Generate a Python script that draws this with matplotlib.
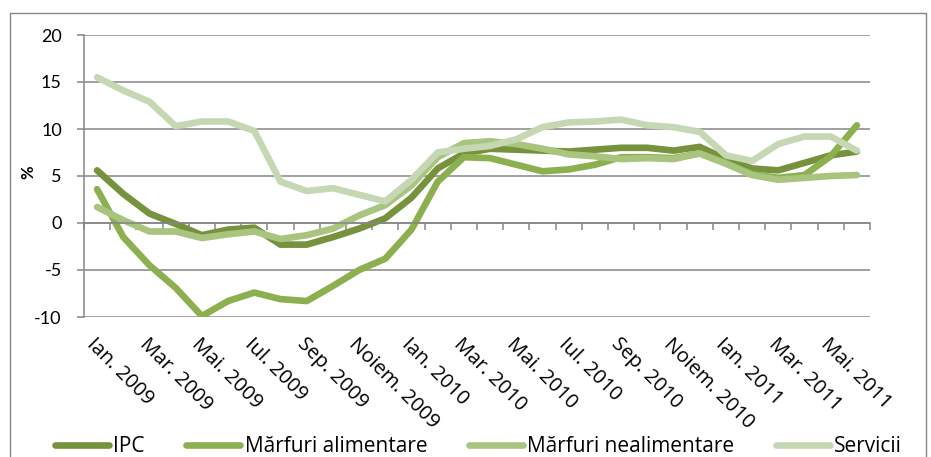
"""Romania inflation components, Jan 2009 - Jun 2011 (annual % change)."""

import matplotlib
matplotlib.use("Agg")
import matplotlib.pyplot as plt
from matplotlib.patches import Rectangle
import numpy as np

plt.rcParams["font.family"] = ["Lato", "DejaVu Sans"]
plt.rcParams["axes.unicode_minus"] = False

GRID = "#868686"
COLORS = ["#76923C", "#8CB04F", "#A8C47E", "#C6D8B3"]

months = [
    "Ian. 2009", "Feb. 2009", "Mar. 2009", "Apr. 2009", "Mai. 2009", "Iun. 2009",
    "Iul. 2009", "Aug. 2009", "Sep. 2009", "Oct. 2009", "Noiem. 2009", "Dec. 2009",
    "Ian. 2010", "Feb. 2010", "Mar. 2010", "Apr. 2010", "Mai. 2010", "Iun. 2010",
    "Iul. 2010", "Aug. 2010", "Sep. 2010", "Oct. 2010", "Noiem. 2010", "Dec. 2010",
    "Ian. 2011", "Feb. 2011", "Mar. 2011", "Apr. 2011", "Mai. 2011", "Iun. 2011",
]

ipc = [5.6, 3.1, 1.0, -0.1, -1.3, -0.7, -0.5, -2.3, -2.3, -1.5,
       -0.6, 0.5, 2.7, 5.8, 7.4, 7.9, 7.8, 7.7, 7.6, 7.8,
       8.0, 8.0, 7.7, 8.1, 6.8, 5.8, 5.6, 6.4, 7.2, 7.6]
alimentare = [3.6, -1.5, -4.5, -6.9, -9.9, -8.3, -7.4, -8.1, -8.3, -6.7,
              -5.0, -3.8, -0.7, 4.4, 7.0, 6.9, 6.2, 5.5, 5.7, 6.2,
              7.0, 7.0, 6.9, 7.4, 6.4, 5.2, 4.8, 5.1, 7.1, 10.4]
nealimentare = [1.7, 0.3, -0.9, -0.9, -1.6, -1.2, -0.9, -1.7, -1.3, -0.6,
                0.8, 1.9, 4.0, 7.0, 8.5, 8.7, 8.4, 7.9, 7.3, 7.1,
                6.8, 6.9, 6.8, 7.4, 6.3, 5.1, 4.6, 4.8, 5.0, 5.1]
servicii = [15.5, 14.1, 12.9, 10.3, 10.8, 10.8, 9.8, 4.4, 3.4, 3.7,
            3.0, 2.3, 4.6, 7.5, 7.9, 8.2, 8.9, 10.2, 10.7, 10.8,
            11.0, 10.4, 10.2, 9.7, 7.2, 6.6, 8.4, 9.2, 9.2, 7.7]

series = {
    "IPC": ipc,
    "Mărfuri alimentare": alimentare,
    "Mărfuri nealimentare": nealimentare,
    "Servicii": servicii,
}
yticks = [-10, -5, 0, 5, 10, 15, 20]

fig = plt.figure(figsize=(9.31, 4.57), dpi=100)
ax = fig.add_axes([84 / 931, 1 - 317 / 457, 786 / 931, 282 / 457])

# outer chart-area frame (Excel style)
fig.patches.append(Rectangle((10 / 931, -0.1), 916 / 931, 1.1 - 13 / 457,
                             transform=fig.transFigure, fill=False,
                             edgecolor=GRID, linewidth=1.0))

x = np.arange(len(months))
for (name, vals), color in zip(series.items(), COLORS):
    ax.plot(x, vals, color=color, linewidth=4.8, label=name,
            solid_capstyle="round", solid_joinstyle="round")

ax.set_xlim(-0.5, len(months) - 0.5)
ax.set_ylim(-10, 20)
ax.set_yticks(yticks)
ax.yaxis.grid(True, color=GRID, linewidth=1.1)
ax.set_axisbelow(True)

for side in ("top", "right"):
    ax.spines[side].set_visible(False)
ax.spines["left"].set_color(GRID)
ax.spines["left"].set_linewidth(1.1)
ax.spines["bottom"].set_position(("data", 0))
ax.spines["bottom"].set_color(GRID)
ax.spines["bottom"].set_linewidth(1.1)

ax.tick_params(axis="y", length=5, width=1.1, color=GRID, pad=11,
               labelsize=13, labelcolor="black")

# category boundary ticks on the zero line, labels every 2 months at the bottom
ax.set_xticks(x[::2])
ax.set_xticklabels(months[::2], rotation=-45, ha="left", va="top",
                   rotation_mode="anchor", fontsize=14.5,
                   family=["Open Sans", "DejaVu Sans"])
ax.set_xticks(np.arange(len(months) + 1) - 0.5, minor=True)
ax.tick_params(axis="x", which="major", length=0, pad=80)
ax.tick_params(axis="x", which="minor", length=5, width=1.1, color=GRID)

fig.text(28 / 931, 1 - 172 / 457, "%", rotation=90, fontsize=12,
         fontweight="bold", ha="center", va="center")

fig.legend(loc="center", bbox_to_anchor=(0.514, 1 - 447 / 457), ncol=4,
           frameon=False, handlelength=2.6, columnspacing=2.0,
           handletextpad=0.2, borderpad=0,
           prop={"family": ["Open Sans", "DejaVu Sans"], "size": 15})

fig.savefig("out.png", dpi=100)
